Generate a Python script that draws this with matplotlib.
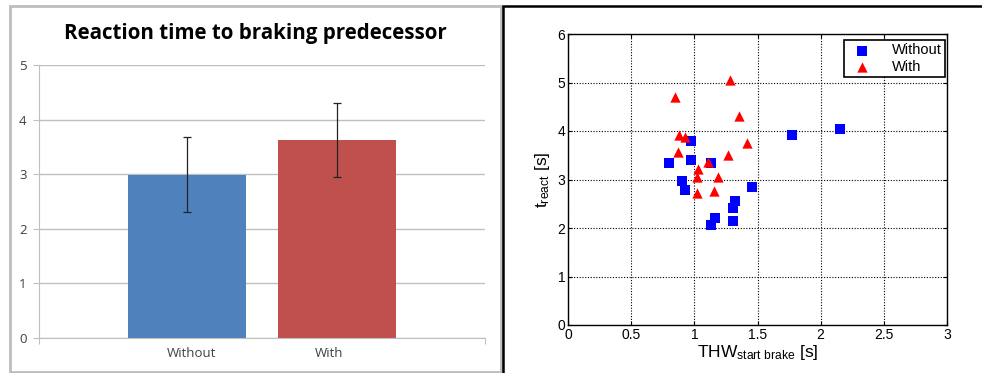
import matplotlib
matplotlib.use("Agg")
import matplotlib.pyplot as plt
from matplotlib.patches import Rectangle

plt.rcParams['mathtext.fontset'] = 'custom'
plt.rcParams['mathtext.rm'] = 'Liberation Sans'
plt.rcParams['mathtext.it'] = 'Liberation Sans'

# left panel: mean reaction time with error bars
bar_labels = ['Without', 'With']
bar_means = [2.98, 3.62]
bar_err_low = [2.30, 2.95]
bar_err_high = [3.68, 4.30]
bar_colors = ['#4F81BD', '#C0504D']

# right panel: scatter of reaction time vs time headway
without_thw = [0.80, 0.97, 0.975, 1.13, 0.90, 0.93, 1.13, 1.16, 1.31, 1.31, 1.32, 1.46, 1.77, 2.15]
without_t = [3.35, 3.80, 3.40, 3.35, 2.96, 2.78, 2.06, 2.20, 2.15, 2.42, 2.56, 2.85, 3.91, 4.05]
with_thw = [0.845, 1.28, 1.35, 0.88, 0.925, 0.87, 1.42, 1.27, 1.105, 1.03, 1.025, 1.19, 1.02, 1.155]
with_t = [4.70, 5.06, 4.31, 3.92, 3.87, 3.56, 3.76, 3.51, 3.37, 3.22, 3.06, 3.06, 2.72, 2.77]

W, H = 982, 373
fig = plt.figure(figsize=(W / 100, H / 100), dpi=100)


def box(x0, y0, x1, y1):
    # pixel box (top-left origin) -> figure fraction rect
    return [x0 / W, (H - y1) / H, (x1 - x0) / W, (y1 - y0) / H]


# panel frames
fig.patches.append(Rectangle((9.5 / W, (H - 372) / H), (492 / W), (366 / H),
                             transform=fig.transFigure, fill=False,
                             edgecolor='#BDBDBD', linewidth=2.0))
fig.patches.append(Rectangle((503.5 / W, -0.01), (480 / W), ((H - 5.5) / H) + 0.01,
                             transform=fig.transFigure, fill=False,
                             edgecolor='black', linewidth=1.8))

# ---- left bar chart
ax1 = fig.add_axes(box(39, 65, 485, 338))
xpos = [-0.5, 0.5]
lo = [m - l for m, l in zip(bar_means, bar_err_low)]
hi = [h - m for m, h in zip(bar_means, bar_err_high)]
ax1.bar(xpos, bar_means, width=0.793, color=bar_colors, zorder=2)
ax1.errorbar(xpos, bar_means, yerr=[lo, hi], fmt='none', ecolor='#222222',
             elinewidth=0.9, capsize=3, capthick=0.9, zorder=3)
ax1.set_xlim(-1.487, 1.487)
ax1.set_ylim(0, 5)
ax1.set_yticks(range(6))
ax1.yaxis.grid(True, color='#BFBFBF', linewidth=1.0, zorder=0)
ax1.set_axisbelow(True)
for s in ['top', 'right']:
    ax1.spines[s].set_visible(False)
ax1.spines['left'].set_color('#BFBFBF')
ax1.spines['bottom'].set_color('#BFBFBF')
ax1.tick_params(axis='y', colors='#BFBFBF', labelcolor='#404040', length=4,
                labelsize=9.5, pad=5)
ax1.set_xticks([-1.487, 1.487])
ax1.set_xticklabels([])
ax1.tick_params(axis='x', colors='#BFBFBF', length=4)
for x, lab in zip([-0.47, 0.45], bar_labels):
    ax1.text(x, -0.29, lab, ha='center', va='center', fontsize=9.5,
             color='#404040', family='Open Sans', transform=ax1.transData)
for t in ax1.get_yticklabels():
    t.set_family('Open Sans')
fig.text(255 / W, 1 - 34 / H, 'Reaction time to braking predecessor',
         ha='center', va='center', fontsize=14.8, fontweight='bold',
         family='Open Sans', color='black')

# ---- right scatter chart
ax2 = fig.add_axes(box(568, 34, 947, 325))
ax2.scatter(without_thw, without_t, marker='s', s=42, color='#0000FF',
            linewidths=0, label='Without', zorder=3)
ax2.scatter(with_thw, with_t, marker='^', s=55, color='#FF0000',
            linewidths=0, label='With', zorder=3)
ax2.set_xlim(0, 3)
ax2.set_ylim(0, 6)
ax2.set_xticks([0, 0.5, 1, 1.5, 2, 2.5, 3])
ax2.set_xticklabels(['0', '0.5', '1', '1.5', '2', '2.5', '3'])
ax2.set_yticks(range(7))
ax2.grid(True, color='black', linestyle=(0, (1, 1.5)), linewidth=0.8)
ax2.tick_params(direction='in', length=3, labelsize=10, pad=2,
                top=True, right=True)
for t in ax2.get_xticklabels() + ax2.get_yticklabels():
    t.set_family('Liberation Sans')
for s in ax2.spines.values():
    s.set_linewidth(1.0)
ax2.set_xlabel(r'THW$_{\mathrm{start\ brake}}$ [s]', fontsize=12.5,
               family='Liberation Sans', labelpad=1)
ax2.set_ylabel(r't$_{\mathrm{react}}$ [s]', fontsize=12.5,
               family='Liberation Sans', labelpad=4)
leg = ax2.legend(loc='upper right', bbox_to_anchor=(0.995, 0.98),
                 prop={'family': 'Liberation Sans', 'size': 10.5},
                 fancybox=False, edgecolor='black', framealpha=1,
                 borderpad=0.25, handletextpad=1.0, labelspacing=0.15,
                 scatterpoints=1, borderaxespad=0)
leg.get_frame().set_linewidth(1.2)

fig.savefig('out.png', dpi=100)
